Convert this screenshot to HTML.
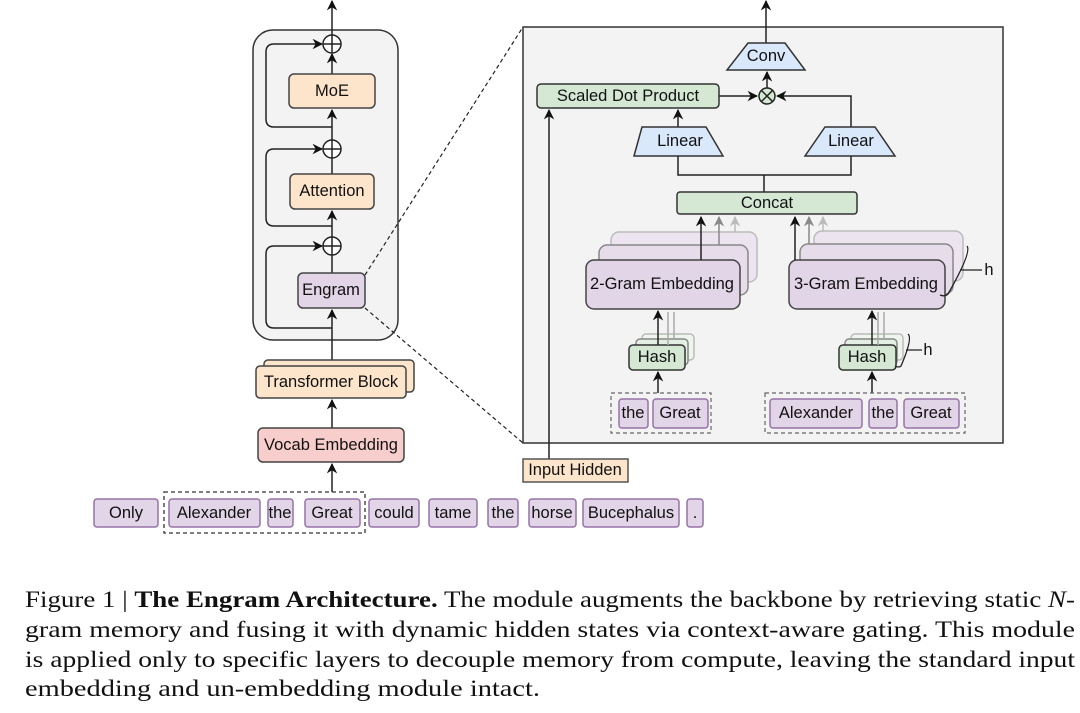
<!DOCTYPE html>
<html><head><meta charset="utf-8"><style>
html,body{margin:0;padding:0;background:#fff;}
svg{display:block}
text{font-family:"Liberation Sans",sans-serif;}
.t{font-size:16.5px;fill:#111;text-anchor:middle;dominant-baseline:central}
.c{font-family:"Liberation Serif",serif;font-size:23px;fill:#111}
</style></head><body>
<svg width="1080" height="713" viewBox="0 0 1080 713" xmlns="http://www.w3.org/2000/svg">
<defs>
<marker id="a" viewBox="0 0 10 10" refX="9" refY="5" markerWidth="7" markerHeight="7" orient="auto-start-reverse"><path d="M0,0 L10,5 L0,10 L3,5 z" fill="#111"/></marker>
<marker id="g1" viewBox="0 0 10 10" refX="9" refY="5" markerWidth="7" markerHeight="7" orient="auto"><path d="M0,0 L10,5 L0,10 L3,5 z" fill="#888"/></marker>
<marker id="g2" viewBox="0 0 10 10" refX="9" refY="5" markerWidth="7" markerHeight="7" orient="auto"><path d="M0,0 L10,5 L0,10 L3,5 z" fill="#bbb"/></marker>
</defs>
<g stroke="#222" stroke-width="1.5" fill="none">
<!-- left block -->
<rect x="253" y="30" width="145" height="310" rx="20" fill="#f3f3f3" stroke="#333"/>
<line x1="332" y1="36" x2="332" y2="1" marker-end="url(#a)"/>
<line x1="332" y1="74" x2="332" y2="54" marker-end="url(#a)"/>
<line x1="332" y1="174" x2="332" y2="110" marker-end="url(#a)"/>
<line x1="332" y1="273" x2="332" y2="211" marker-end="url(#a)"/>
<line x1="332" y1="366" x2="332" y2="310" marker-end="url(#a)"/>
<line x1="332" y1="428" x2="332" y2="400" marker-end="url(#a)"/>
<line x1="332" y1="492" x2="332" y2="464" marker-end="url(#a)"/>
<path d="M332,127 L274,127 Q266,127 266,119 L266,52 Q266,44 274,44 L322,44" marker-end="url(#a)"/>
<path d="M332,226 L274,226 Q266,226 266,218 L266,157 Q266,149 274,149 L322,149" marker-end="url(#a)"/>
<path d="M332,328 L274,328 Q266,328 266,320 L266,254 Q266,246 274,246 L322,246" marker-end="url(#a)"/>
<g fill="#fff"><circle cx="332" cy="44" r="9"/><circle cx="332" cy="149" r="9"/><circle cx="332" cy="246" r="9"/></g>
<path d="M323,44h18M332,35v18M323,149h18M332,140v18M323,246h18M332,237v18"/>
<rect x="289" y="74" width="86" height="34" rx="5" fill="#fde5cc" stroke="#444"/>
<rect x="290" y="174" width="84" height="35" rx="5" fill="#fde5cc" stroke="#444"/>
<rect x="298" y="273" width="67" height="35" rx="5" fill="#e1d5e7" stroke="#444"/>
<rect x="264" y="360" width="150" height="32" rx="4" fill="#fde5cc" stroke="#444"/>
<rect x="256" y="366" width="150" height="32" rx="4" fill="#fde5cc" stroke="#444"/>
<rect x="258" y="428" width="146" height="34" rx="5" fill="#f8cecc" stroke="#444"/>
<!-- zoom dashed -->
<path d="M365,275 L523,27 M365,308 L523,443" stroke-dasharray="4,3" stroke-width="1.2"/>
<!-- right panel -->
<rect x="523" y="27" width="480" height="416" fill="#f3f3f3" stroke="#333"/>
<line x1="766" y1="43" x2="766" y2="1" marker-end="url(#a)"/>
<path d="M748,43 L785,43 L805,70 L727,70 Z" fill="#dae8fc" stroke="#333"/>
<line x1="767" y1="88" x2="767" y2="72" marker-end="url(#a)"/>
<rect x="537" y="84" width="182" height="24" rx="4" fill="#d5e8d4" stroke="#333"/>
<line x1="719" y1="96" x2="757" y2="96" marker-end="url(#a)"/>
<path d="M851,127 L851,96 L777,96" marker-end="url(#a)"/>
<circle cx="767" cy="96" r="8" fill="#d5e8d4"/>
<path d="M761.3,90.3 L772.7,101.7 M772.7,90.3 L761.3,101.7"/>
<line x1="678" y1="127" x2="678" y2="110" marker-end="url(#a)"/>
<path d="M642,127 L706,127 L723,156 L634,156 Z" fill="#dae8fc" stroke="#333"/>
<path d="M825,127 L875,127 L895,156 L805,156 Z" fill="#dae8fc" stroke="#333"/>
<path d="M678,156 L678,175 L851,175 L851,156 M764,175 L764,192"/>
<rect x="677" y="192" width="180" height="22" rx="3" fill="#d5e8d4" stroke="#333"/>
<!-- 2-gram stack -->
<rect x="611" y="232" width="146" height="50" rx="8" fill="#ece4ef" stroke="#bbb"/>
<rect x="599" y="245" width="149" height="50" rx="8" fill="#e6dcea" stroke="#888"/>
<rect x="586" y="260" width="154" height="49" rx="8" fill="#e1d5e7" stroke="#444"/>
<line x1="701" y1="260" x2="701" y2="217" marker-end="url(#a)"/>
<line x1="719" y1="245" x2="719" y2="217" stroke="#888" marker-end="url(#g1)"/>
<line x1="735" y1="232" x2="735" y2="217" stroke="#bbb" marker-end="url(#g2)"/>
<!-- 3-gram stack -->
<rect x="814" y="231" width="149" height="50" rx="8" fill="#ece4ef" stroke="#bbb"/>
<rect x="800" y="244" width="153" height="50" rx="8" fill="#e6dcea" stroke="#888"/>
<rect x="789" y="260" width="156" height="49" rx="8" fill="#e1d5e7" stroke="#444"/>
<line x1="795" y1="260" x2="795" y2="217" marker-end="url(#a)"/>
<line x1="809" y1="244" x2="809" y2="217" stroke="#888" marker-end="url(#g1)"/>
<line x1="823" y1="231" x2="823" y2="217" stroke="#bbb" marker-end="url(#g2)"/>
<path d="M967,246 Q972,252 948,294 Q945,297 940,295 M960,270 L982,270" stroke-width="1.3"/>
<!-- hashes -->
<rect x="642" y="334" width="52" height="26" rx="4" fill="#eef5ed" stroke="#bbb"/>
<rect x="636" y="339" width="52" height="26" rx="4" fill="#e3efe2" stroke="#888"/>
<rect x="629" y="345" width="56" height="25" rx="4" fill="#d5e8d4" stroke="#333"/>
<path d="M668,345 L668,312 M674,339 L674,312" stroke="#aaa"/>
<line x1="658" y1="345" x2="658" y2="311" marker-end="url(#a)"/>
<rect x="851" y="334" width="52" height="26" rx="4" fill="#eef5ed" stroke="#bbb"/>
<rect x="845" y="339" width="52" height="26" rx="4" fill="#e3efe2" stroke="#888"/>
<rect x="839" y="345" width="57" height="25" rx="4" fill="#d5e8d4" stroke="#333"/>
<path d="M878,345 L878,312 M884,339 L884,312" stroke="#aaa"/>
<line x1="872" y1="345" x2="872" y2="311" marker-end="url(#a)"/>
<path d="M908,334 Q913,338 901,366 Q899,368 895,366 M906,350 L922,350" stroke-width="1.3"/>
<line x1="658" y1="393" x2="658" y2="372" marker-end="url(#a)"/>
<line x1="872" y1="393" x2="872" y2="372" marker-end="url(#a)"/>
<rect x="611" y="393" width="100" height="40" fill="none" stroke="#666" stroke-dasharray="4,3" stroke-width="1.2"/>
<rect x="765" y="393" width="200" height="40" fill="none" stroke="#666" stroke-dasharray="4,3" stroke-width="1.2"/>
<g fill="#e1d5e7" stroke="#9673a6">
<rect x="619" y="399" width="29" height="29" rx="3"/><rect x="653" y="399" width="55" height="29" rx="3"/>
<rect x="770" y="399" width="92" height="29" rx="3"/><rect x="869" y="399" width="28" height="29" rx="3"/><rect x="904" y="399" width="55" height="29" rx="3"/>
</g>
<!-- input hidden -->
<line x1="549" y1="459" x2="549" y2="110" marker-end="url(#a)"/>
<rect x="523" y="459" width="105" height="23" fill="#fde5cc" stroke="#555"/>
<!-- tokens -->
<rect x="164" y="492" width="201" height="41" fill="none" stroke="#333" stroke-dasharray="4,3" stroke-width="1.3"/>
<g fill="#e1d5e7" stroke="#9673a6">
<rect x="94" y="499" width="64" height="28" rx="3"/><rect x="169" y="499" width="91" height="28" rx="3"/>
<rect x="268" y="499" width="25" height="28" rx="3"/><rect x="305" y="499" width="55" height="28" rx="3"/>
<rect x="369" y="499" width="50" height="28" rx="3"/><rect x="429" y="499" width="48" height="28" rx="3"/>
<rect x="488" y="499" width="30" height="28" rx="3"/><rect x="529" y="499" width="47" height="28" rx="3"/>
<rect x="583" y="499" width="96" height="28" rx="3"/><rect x="687" y="499" width="16" height="28" rx="3"/>
</g>
</g>
<g class="t">
<text x="332" y="91" class="t">MoE</text>
<text x="332" y="191" class="t">Attention</text>
<text x="331" y="290" class="t">Engram</text>
<text x="331" y="382" class="t">Transformer Block</text>
<text x="331" y="445" class="t">Vocab Embedding</text>
<text x="766" y="56" class="t">Conv</text>
<text x="628" y="96" class="t">Scaled Dot Product</text>
<text x="680" y="141" class="t">Linear</text>
<text x="851" y="141" class="t">Linear</text>
<text x="767" y="203" class="t">Concat</text>
<text x="662" y="284" class="t">2-Gram Embedding</text>
<text x="866" y="284" class="t">3-Gram Embedding</text>
<text x="989" y="270" class="t">h</text>
<text x="928" y="350" class="t">h</text>
<text x="657" y="357" class="t">Hash</text>
<text x="867" y="357" class="t">Hash</text>
<text x="633" y="413" class="t">the</text>
<text x="680" y="413" class="t">Great</text>
<text x="816" y="413" class="t">Alexander</text>
<text x="883" y="413" class="t">the</text>
<text x="931" y="413" class="t">Great</text>
<text x="575" y="470" class="t">Input Hidden</text>
<text x="126" y="513" class="t">Only</text>
<text x="214" y="513" class="t">Alexander</text>
<text x="280" y="513" class="t">the</text>
<text x="332" y="513" class="t">Great</text>
<text x="394" y="513" class="t">could</text>
<text x="453" y="513" class="t">tame</text>
<text x="503" y="513" class="t">the</text>
<text x="552" y="513" class="t">horse</text>
<text x="631" y="513" class="t">Bucephalus</text>
<text x="695" y="513" class="t">.</text>
</g>
<text class="c" x="25" y="607" textLength="1050" lengthAdjust="spacingAndGlyphs">Figure 1 | <tspan font-weight="bold">The Engram Architecture.</tspan> The module augments the backbone by retrieving static <tspan font-style="italic">N</tspan>-</text>
<text class="c" x="25" y="637" textLength="1050" lengthAdjust="spacingAndGlyphs">gram memory and fusing it with dynamic hidden states via context-aware gating. This module</text>
<text class="c" x="25" y="667" textLength="1050" lengthAdjust="spacingAndGlyphs">is applied only to specific layers to decouple memory from compute, leaving the standard input</text>
<text class="c" x="25" y="696" textLength="515" lengthAdjust="spacingAndGlyphs">embedding and un-embedding module intact.</text>
</svg>
</body></html>
